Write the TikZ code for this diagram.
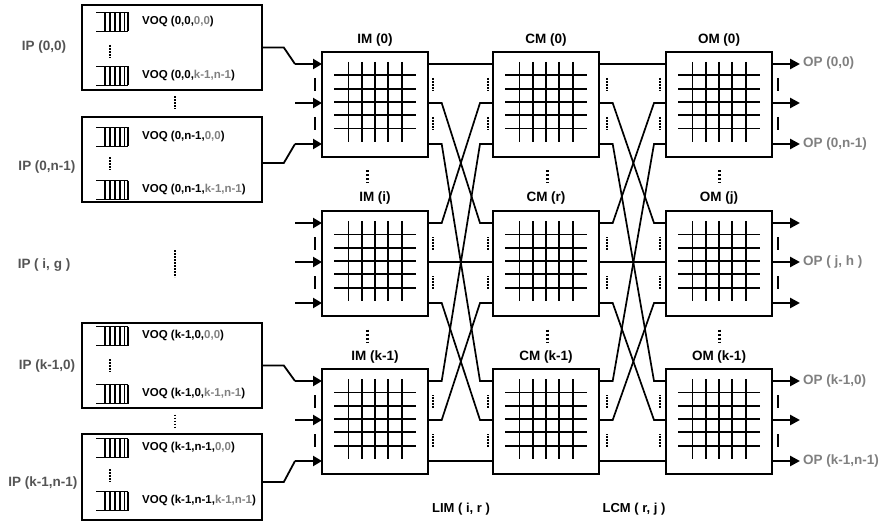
\documentclass[tikz,border=0pt]{standalone}
\usepackage{fontspec}
\setmainfont{Liberation Sans}
\usetikzlibrary{arrows.meta,calc}
\definecolor{ipgray}{gray}{0.33}
\definecolor{opgray}{gray}{0.5}
\newcommand\voqicon[1]{%
  \draw[qline] (96,#1-9.5) -- (128,#1-9.5);
  \draw[qline] (96,#1+9.5) -- (128,#1+9.5);
  \foreach \vx in {105,110,115,120,124.5,128} {\draw[qline] (\vx,#1-9.5) -- (\vx,#1+9.5);}
}
\begin{document}
\begin{tikzpicture}[x=1pt,y=-1pt,
  module/.style={draw,line width=1.8pt,minimum width=106pt,minimum height=105pt,inner sep=0pt},
  ipbox/.style={draw,line width=1.6pt,minimum width=180pt,inner sep=0pt},
  gridline/.style={line width=1.8pt},
  link/.style={line width=1.7pt},
  feed/.style={line width=1.8pt},
  inarrow/.style={line width=2.8pt,-{Triangle[length=9pt,width=10pt]}},
  outarrow/.style={line width=2.8pt,-{Triangle[length=10pt,width=10pt]}},
  porttick/.style={line width=1.8pt},
  linkdots/.style={line width=2pt,dash pattern=on 1pt off 0.5pt},
  vdots/.style={line width=3pt,dash pattern=on 2.2pt off 1.8pt},
  qdots/.style={line width=2.8pt,dash pattern=on 1.8pt off 1.2pt},
  qline/.style={line width=1.4pt},
  modlabel/.style={font=\bfseries\fontsize{13.5}{14}\selectfont,inner sep=0pt},
  iplabel/.style={font=\bfseries\fontsize{13.5}{14}\selectfont,text=ipgray,inner sep=0pt},
  oplabel/.style={font=\bfseries\fontsize{13.5}{14}\selectfont,text=opgray,inner sep=0pt,anchor=west},
  voq/.style={font=\bfseries\fontsize{11.5}{12}\selectfont,inner sep=0pt,anchor=west},
  linklabel/.style={font=\bfseries\fontsize{13}{14}\selectfont,inner sep=0pt}]
\useasboundingbox (0,0) rectangle (886,524);

% ---------- modules with crossbar grids and ports
\foreach \mo/\xl in {IM/322, CM/493, OM/666} {
  \foreach \ro/\tp in {0/52, 1/211, 2/369} {
    \node[module] (\mo\ro) at (\xl+53, \tp+52.5) {};
    \foreach \d in {-26.6,-13.3,0,13.3,26.6} {
      \draw[gridline] (\xl+53+\d, \tp+10) -- (\xl+53+\d, \tp+90);
      \draw[gridline] (\xl+12.3, \tp+50+\d) -- (\xl+93.7, \tp+50+\d);
    }
    \foreach \po/\of in {0/12, 1/51, 2/92} {
      \coordinate (\mo\ro L\po) at (\xl, \tp+\of);
      \coordinate (\mo\ro R\po) at (\xl+106, \tp+\of);
    }
  }
}

% ---------- module labels
\node[modlabel] (tIM0) at (375,40) {IM (0)};
\node[modlabel] (tCM0) at (546,40) {CM (0)};
\node[modlabel] (tOM0) at (719,40) {OM (0)};
\node[modlabel] (tIM1) at (375,198.5) {IM (i)};
\node[modlabel] (tCM1) at (546,198.5) {CM (r)};
\node[modlabel] (tOM1) at (719,198.5) {OM (j)};
\node[modlabel] (tIM2) at (375,357) {IM (k-1)};
\node[modlabel] (tCM2) at (546,357) {CM (k-1)};
\node[modlabel] (tOM2) at (719,357) {OM (k-1)};

% ---------- vertical dots between module rows
\foreach \vx in {367,547,719} {
  \draw[vdots] (\vx,170) -- (\vx,182.5);
  \draw[vdots] (\vx,329.5) -- (\vx,342);
}

% ---------- links IM(i) port r -> CM(r) port i, CM(r) port j -> OM(j) port r
\foreach \ii in {0,1,2} {
  \foreach \rr in {0,1,2} {
    \draw[link] (IM\ii R\rr) -- ++(13.7,0) -- ($(CM\rr L\ii)+(-13,0)$) -- (CM\rr L\ii);
    \draw[link] (CM\ii R\rr) -- ++(13.7,0) -- ($(OM\rr L\ii)+(-12,0)$) -- (OM\rr L\ii);
  }
}

% ---------- dotted markers on links, port ticks
\foreach \tp in {52, 211, 369} {
  \foreach \vx in {433.3,487.5,606.5,659.5} {
    \draw[linkdots] (\vx,\tp+26) -- (\vx,\tp+38.5);
    \draw[linkdots] (\vx,\tp+65) -- (\vx,\tp+77.5);
  }
  \foreach \vx in {315,778} {
    \draw[porttick] (\vx,\tp+26) -- (\vx,\tp+39);
    \draw[porttick] (\vx,\tp+65) -- (\vx,\tp+78);
  }
}

% ---------- input port boxes
\node[ipbox,minimum height=85pt] (IPa) at (172,47.5) {};
\node[ipbox,minimum height=85pt] (IPb) at (172,159.5) {};
\node[ipbox,minimum height=85pt] (IPc) at (172,365.5) {};
\node[ipbox,minimum height=86pt] (IPd) at (172,477) {};

\voqicon{22}\voqicon{76}
\voqicon{137}\voqicon{190}
\voqicon{336}\voqicon{394}
\voqicon{448}\voqicon{501}

\node[voq] (v1) at (142,22) {VOQ (0,0,\textcolor{opgray}{0,0})};
\node[voq] (v2) at (142,76) {VOQ (0,0,\textcolor{opgray}{k-1,n-1})};
\node[voq] (v3) at (142,137) {VOQ (0,n-1,\textcolor{opgray}{0,0})};
\node[voq] (v4) at (142,190) {VOQ (0,n-1,\textcolor{opgray}{k-1,n-1})};
\node[voq] (v5) at (142,336) {VOQ (k-1,0,\textcolor{opgray}{0,0})};
\node[voq] (v6) at (142,394) {VOQ (k-1,0,\textcolor{opgray}{k-1,n-1})};
\node[voq] (v7) at (142,448) {VOQ (k-1,n-1,\textcolor{opgray}{0,0})};
\node[voq] (v8) at (142,501) {VOQ (k-1,n-1,\textcolor{opgray}{k-1,n-1})};

\draw[qdots] (110,45) -- (110,57.5);
\draw[qdots] (110,157) -- (110,169.5);
\draw[qdots] (110,359) -- (110,371.5);
\draw[qdots] (110,469) -- (110,481.5);
\draw[qdots] (175,96.5) -- (175,109);
\draw[qdots] (175,250) -- (175,277);
\draw[qdots] (175,414.5) -- (175,427);

% ---------- IP labels
\node[iplabel] (ipl1) at (44,47) {IP (0,0)};
\node[iplabel] (ipl2) at (47,167) {IP (0,n-1)};
\node[iplabel] (ipl3) at (44,265) {IP ( i, g )};
\node[iplabel] (ipl4) at (47,366) {IP (k-1,0)};
\node[iplabel] (ipl5) at (43,483) {IP (k-1,n-1)};

% ---------- feeds from IP boxes into the input modules
\draw[feed] (IPa.east) -- ++(21,0) -- ($(IM0L0)+(-27,0)$);
\draw[feed] ($(IPb.east)+(0,3.5)$) -- ++(21,0) -- ($(IM0L2)+(-27,0)$);
\draw[feed] (IPc.east) -- ++(21,0) -- ($(IM2L0)+(-27,0)$);
\draw[feed] ($(IPd.east)+(0,5)$) -- ++(21,0) -- ($(IM2L2)+(-27,0)$);
\foreach \ro in {0,1,2} {
  \foreach \po in {0,1,2} {
    \draw[inarrow] ($(IM\ro L\po)+(-27,0)$) -- (IM\ro L\po);
    \coordinate (out\ro\po) at ($(OM\ro R\po)+(28,0)$);
    \draw[outarrow] (OM\ro R\po) -- (out\ro\po);
  }
}

% ---------- OP labels
\node[oplabel] (op1) at (803,63) {OP (0,0)};
\node[oplabel] (op2) at (803,144) {OP (0,n-1)};
\node[oplabel] (op3) at (803,262.5) {OP ( j, h )};
\node[oplabel] (op4) at (803,381) {OP (k-1,0)};
\node[oplabel] (op5) at (803,461) {OP (k-1,n-1)};

% ---------- link labels
\node[linklabel] (lim) at (461,509) {LIM ( i, r )};
\node[linklabel] (lcm) at (634,509) {LCM ( r, j )};
\end{tikzpicture}
\end{document}
